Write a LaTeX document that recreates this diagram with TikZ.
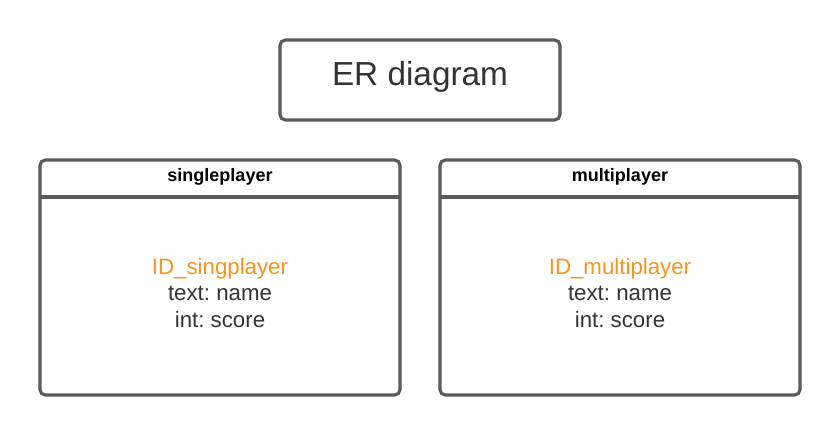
\documentclass[tikz,border=0pt]{standalone}
\usepackage{fontspec}
\setmainfont{Liberation Sans}
\frenchspacing
\definecolor{edge}{HTML}{5A5A5A}
\definecolor{txt}{HTML}{333333}
\definecolor{pk}{HTML}{F7941D}
\begin{document}
\begin{tikzpicture}[x=0.75pt,y=-0.75pt,
  boxline/.style={draw=edge,line width=2.3pt,rounded corners=4pt},
  titletext/.style={text=txt,font=\fontsize{25}{29}\selectfont},
  headtext/.style={text=black,font=\bfseries\fontsize{13.5}{15}\selectfont},
  attr/.style={text=txt,font=\fontsize{16.7}{19.9}\selectfont,align=center},
]
\useasboundingbox (0,0) rectangle (840,435);
% title
\draw[boxline] (280,40) rectangle (560,120);
\node[titletext] (title) at (420,77) {ER diagram};
% left entity
\draw[boxline] (40,160) rectangle (400,395);
\draw[draw=edge,line width=2.3pt] (40,197) -- (400,197);
\node[headtext] (lh) at (220,177) {singleplayer};
\node[attr] (la) at (220,293) {\textcolor{pk}{ID\_singplayer}\\text: name\\int: score};
% right entity
\draw[boxline] (440,160) rectangle (800,395);
\draw[draw=edge,line width=2.3pt] (440,197) -- (800,197);
\node[headtext] (rh) at (620,177) {multiplayer};
\node[attr] (ra) at (620,293) {\textcolor{pk}{ID\_multiplayer}\\text: name\\int: score};
\end{tikzpicture}
\end{document}
